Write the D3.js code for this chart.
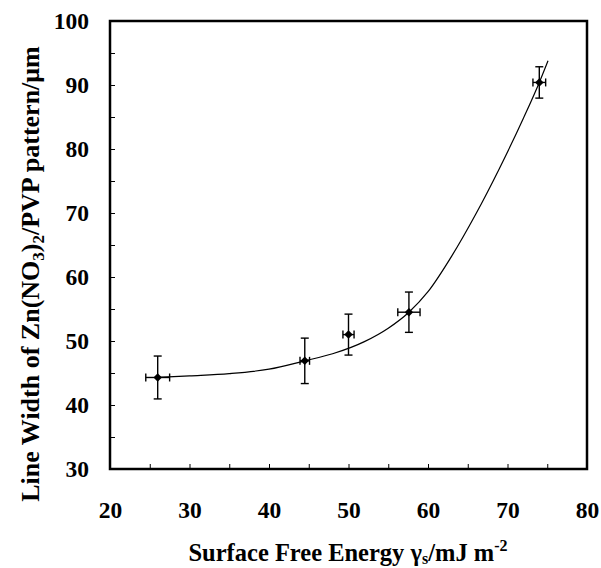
<!DOCTYPE html>
<html>
<head>
<meta charset="utf-8">
<script src="https://cdn.jsdelivr.net/npm/d3@7"></script>
<style>
  body { margin: 0; background: #fff; }
  svg text { font-family: "Liberation Serif", "DejaVu Serif", serif; font-weight: bold; }
</style>
</head>
<body>
<script>
// measured points (surface free energy vs line width)
const energy = [26, 44.5, 50, 57.6, 74];
const lineWidth = [44.3, 46.9, 51.0, 54.5, 90.4];
const energyErr = [1.5, 0.6, 0.7, 1.4, 0.8];
const widthErr = [3.35, 3.55, 3.2, 3.15, 2.45];

// fitted curve
const fitX = [26, 30, 35, 40, 44.5, 48, 52, 55, 57.6, 60, 63, 66, 69, 72, 74, 75.1];
const fitY = [44.3, 44.55, 44.9, 45.6, 46.9, 48.0, 49.9, 52.0, 54.5, 57.7, 63.3, 69.8, 77.0, 84.8, 90.4, 93.8];

// ticks
const xTicks = [20, 30, 40, 50, 60, 70, 80];
const xMinor = [25, 30, 35, 40, 45, 50, 55, 60, 65, 70, 75];
const yTicks = [30, 40, 50, 60, 70, 80, 90, 100];
const yMinor = [35, 40, 45, 50, 55, 60, 65, 70, 75, 80, 85, 90, 95];

const points = energy.map((e, i) => ({ x: e, y: lineWidth[i], ex: energyErr[i], ey: widthErr[i] }));
const fit = fitX.map((v, i) => [v, fitY[i]]);

const W = 601, H = 568;
const plotL = 110, plotR = 587, plotT = 21, plotB = 469;
const serif = "'Liberation Serif', 'DejaVu Serif', serif";

const svg = d3.select("body").append("svg").attr("width", W).attr("height", H);

const x = d3.scaleLinear().domain([20, 80]).range([plotL, plotR]);
const y = d3.scaleLinear().domain([30, 100]).range([plotB, plotT]);

// minor + major ticks pointing inward
svg.append("g")
  .attr("transform", "translate(0," + plotB + ")")
  .call(d3.axisBottom(x).tickValues(xMinor).tickSize(-5).tickFormat(""))
  .call((g) => g.select(".domain").remove());
svg.append("g")
  .attr("transform", "translate(" + plotL + ",0)")
  .call(d3.axisLeft(y).tickValues(yMinor).tickSize(-5).tickFormat(""))
  .call((g) => g.select(".domain").remove());

// tick labels
svg.append("g")
  .attr("transform", "translate(0," + plotB + ")")
  .call(d3.axisBottom(x).tickValues(xTicks).tickSize(0).tickPadding(32))
  .call((g) => g.select(".domain").remove())
  .attr("font-family", serif)
  .selectAll("text")
  .attr("font-family", serif)
  .attr("font-weight", "bold")
  .attr("font-size", 23.5)
  .attr("fill", "#000");
svg.append("g")
  .attr("transform", "translate(" + plotL + ",0)")
  .call(d3.axisLeft(y).tickValues(yTicks).tickSize(0).tickPadding(21))
  .call((g) => g.select(".domain").remove())
  .attr("font-family", serif)
  .selectAll("text")
  .attr("font-family", serif)
  .attr("font-weight", "bold")
  .attr("font-size", 23.5)
  .attr("fill", "#000");

svg.selectAll(".tick line").attr("stroke", "#000").attr("stroke-width", 1);

// frame
svg.append("rect")
  .attr("x", plotL)
  .attr("y", plotT)
  .attr("width", plotR - plotL)
  .attr("height", plotB - plotT)
  .attr("fill", "none")
  .attr("stroke", "#000")
  .attr("stroke-width", 2.5);

// fitted line
const line = d3.line()
  .x((d) => x(d[0]))
  .y((d) => y(d[1]))
  .curve(d3.curveMonotoneX);

svg.append("path")
  .datum(fit)
  .attr("d", line)
  .attr("fill", "none")
  .attr("stroke", "#000")
  .attr("stroke-width", 1.2);

// error bars
const cap = 4;
const bars = svg.append("g").attr("stroke", "#000").attr("stroke-width", 1.4);
points.forEach((d) => {
  const cx = x(d.x), cy = y(d.y);
  bars.append("line").attr("x1", cx).attr("x2", cx).attr("y1", y(d.y - d.ey)).attr("y2", y(d.y + d.ey));
  bars.append("line").attr("x1", cx - cap).attr("x2", cx + cap).attr("y1", y(d.y - d.ey)).attr("y2", y(d.y - d.ey));
  bars.append("line").attr("x1", cx - cap).attr("x2", cx + cap).attr("y1", y(d.y + d.ey)).attr("y2", y(d.y + d.ey));
  bars.append("line").attr("x1", x(d.x - d.ex)).attr("x2", x(d.x + d.ex)).attr("y1", cy).attr("y2", cy);
  bars.append("line").attr("x1", x(d.x - d.ex)).attr("x2", x(d.x - d.ex)).attr("y1", cy - cap).attr("y2", cy + cap);
  bars.append("line").attr("x1", x(d.x + d.ex)).attr("x2", x(d.x + d.ex)).attr("y1", cy - cap).attr("y2", cy + cap);
});

// diamond markers
svg.selectAll(".pt")
  .data(points)
  .enter()
  .append("path")
  .attr("class", "pt")
  .attr("d", d3.symbol(d3.symbolSquare, 36))
  .attr("transform", (d) => "translate(" + x(d.x) + "," + y(d.y) + ") rotate(45)")
  .attr("fill", "#000");

// x title
const xt = svg.append("text")
  .attr("x", 348)
  .attr("y", 561)
  .attr("text-anchor", "middle")
  .attr("font-family", serif)
  .attr("font-size", 24.5);
xt.append("tspan").text("Surface Free Energy γ");
xt.append("tspan").attr("font-size", 16).attr("dy", 3).text("s");
xt.append("tspan").attr("dy", -3).text("/mJ m");
xt.append("tspan").attr("font-size", 16).attr("dy", -10).text("-2");

// y title
const yt = svg.append("text")
  .attr("transform", "translate(39,274) rotate(-90)")
  .attr("text-anchor", "middle")
  .attr("font-family", serif)
  .attr("font-size", 26);
yt.append("tspan").text("Line Width of Zn(NO");
yt.append("tspan").attr("font-size", 17).attr("dy", 5).text("3");
yt.append("tspan").attr("dy", -5).text(")");
yt.append("tspan").attr("font-size", 17).attr("dy", 5).text("2");
yt.append("tspan").attr("dy", -5).text("/PVP pattern/μm");
</script>
</body>
</html>
